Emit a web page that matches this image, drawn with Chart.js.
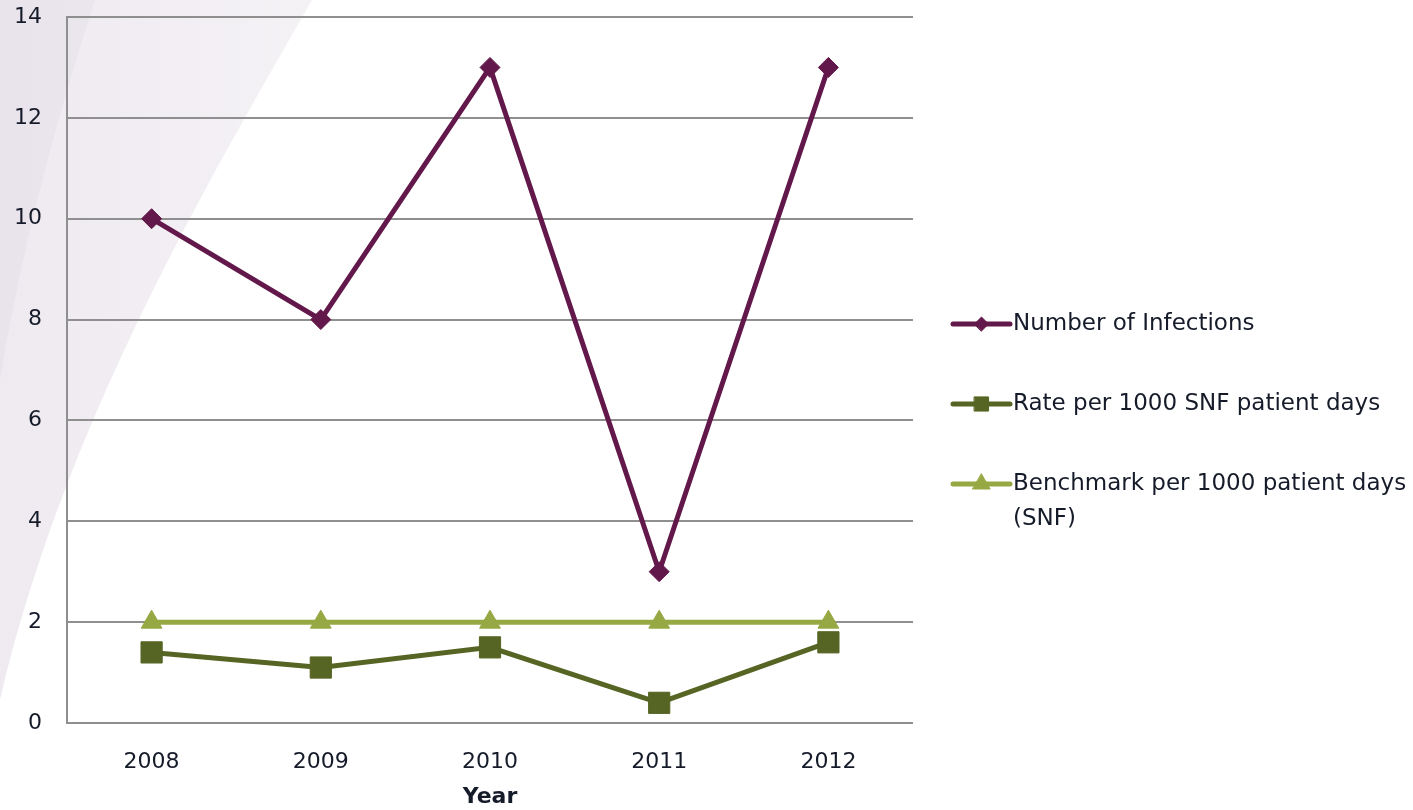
<!DOCTYPE html>
<html>
<head>
<meta charset="utf-8">
<script src="https://cdn.jsdelivr.net/npm/chart.js@4.4.1/dist/chart.umd.min.js"></script>
<style>
  html, body { margin: 0; padding: 0; background: #fff; }
  #wrap { width: 1413px; height: 810px; }
</style>
</head>
<body>
<div id="wrap"><canvas id="infChart" width="1413" height="810"></canvas></div>
<script>
// Infections per year
const years = ["2008", "2009", "2010", "2011", "2012"];
const infections = [10, 8, 13, 3, 13];
const ratePer1000 = [1.4, 1.1, 1.5, 0.4, 1.6];
const benchmark = [2, 2, 2, 2, 2];
const yTicks = [0, 2, 4, 6, 8, 10, 12, 14];

const textColor = "#161b2a";
const gridColor = "#8f8f8f";

// soft lavender swoosh behind the chart
const swoosh = {
    id: "swoosh",
    beforeDraw(chart) {
        const ctx = chart.ctx;
        ctx.save();
        let g = ctx.createLinearGradient(0, 0, 320, 0);
        g.addColorStop(0, "#eeeaf0");
        g.addColorStop(1, "#f5f2f6");
        ctx.fillStyle = g;
        ctx.beginPath();
        ctx.moveTo(0, 0);
        ctx.lineTo(312, 0);
        ctx.bezierCurveTo(215, 170, 65, 420, 0, 700);
        ctx.closePath();
        ctx.fill();

        ctx.fillStyle = "rgba(222, 215, 226, 0.3)";
        ctx.beginPath();
        ctx.moveTo(0, 0);
        ctx.lineTo(95, 0);
        ctx.bezierCurveTo(60, 110, 25, 230, 0, 380);
        ctx.closePath();
        ctx.fill();
        ctx.restore();
    }
};

// legend on the right: short line with the marker in the middle
const sideLegend = {
    id: "sideLegend",
    afterDraw(chart) {
        const ctx = chart.ctx;
        const area = chart.chartArea;
        const x0 = area.right + 40;
        const x1 = x0 + 57;
        let y = (area.top + area.bottom) / 2 - 46;
        const markerSize = [7, 10, 10];
        ctx.save();
        chart.data.datasets.forEach((ds, i) => {
            ctx.strokeStyle = ds.borderColor;
            ctx.lineWidth = 5;
            ctx.lineCap = "round";
            ctx.beginPath();
            ctx.moveTo(x0, y);
            ctx.lineTo(x1, y);
            ctx.stroke();
            ctx.fillStyle = ds.backgroundColor;
            ctx.lineWidth = 1;
            Chart.helpers.drawPoint(ctx, { pointStyle: ds.pointStyle, radius: markerSize[i], borderWidth: 1 }, (x0 + x1) / 2, y);

            ctx.fillStyle = textColor;
            ctx.font = "23px 'DejaVu Sans'";
            ctx.textBaseline = "middle";
            ctx.textAlign = "left";
            const lines = Array.isArray(ds.legendText) ? ds.legendText : [ds.label];
            lines.forEach((ln, k) => ctx.fillText(ln, x1 + 3, y + k * 35));
            y += 80;
        });
        ctx.restore();
    }
};

new Chart(document.getElementById("infChart"), {
    type: "line",
    data: {
        labels: years,
        datasets: [
            {
                label: "Number of Infections",
                data: infections,
                borderColor: "#62184a",
                backgroundColor: "#62184a",
                borderWidth: 5,
                pointStyle: "rectRot",
                pointRadius: 10,
                pointBorderWidth: 1,
                tension: 0
            },
            {
                label: "Rate per 1000 SNF patient days",
                data: ratePer1000,
                borderColor: "#576524",
                backgroundColor: "#576524",
                borderWidth: 5,
                pointStyle: "rect",
                pointRadius: 15,
                pointBorderWidth: 1,
                tension: 0
            },
            {
                label: "Benchmark per 1000 patient days (SNF)",
                legendText: ["Benchmark per 1000 patient days", "(SNF)"],
                data: benchmark,
                borderColor: "#96a843",
                backgroundColor: "#96a843",
                borderWidth: 5,
                pointStyle: "triangle",
                pointRadius: 12,
                pointBorderWidth: 1,
                tension: 0
            }
        ]
    },
    options: {
        responsive: false,
        animation: false,
        layout: { padding: { top: 17, right: 500, left: 0, bottom: 0 } },
        plugins: {
            legend: { display: false },
            tooltip: { enabled: false }
        },
        scales: {
            x: {
                offset: true,
                grid: { display: false, drawTicks: false },
                border: { display: false },
                ticks: {
                    color: textColor,
                    font: { family: "DejaVu Sans", size: 22 },
                    padding: 26
                },
                title: {
                    display: true,
                    text: "Year",
                    color: textColor,
                    font: { family: "DejaVu Sans", size: 22, weight: "bold" },
                    padding: { top: 0, bottom: 0 }
                },
                afterFit(scale) { scale.height = 87; }
            },
            y: {
                min: 0,
                max: 14,
                afterBuildTicks(scale) { scale.ticks = yTicks.map(v => ({ value: v })); },
                grid: { color: gridColor, lineWidth: 2, drawTicks: false },
                border: { display: true, color: gridColor, width: 2 },
                ticks: {
                    color: textColor,
                    font: { family: "DejaVu Sans", size: 22 },
                    padding: 25
                },
                afterFit(scale) {
                    scale.width = 67;
                    scale.paddingTop = 0;
                    scale.paddingBottom = 0;
                }
            }
        }
    },
    plugins: [swoosh, sideLegend]
});
</script>
</body>
</html>
